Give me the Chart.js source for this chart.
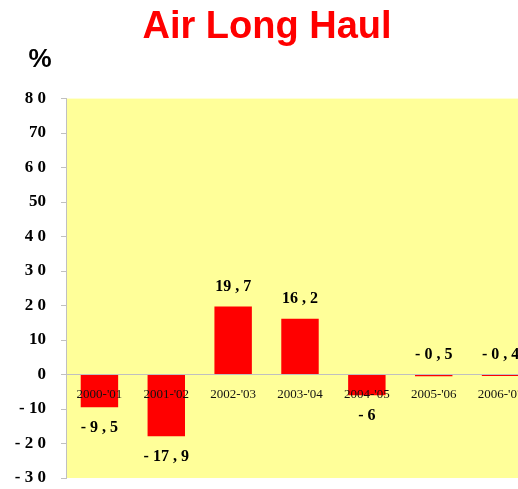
<!DOCTYPE html>
<html>
<head>
<meta charset="utf-8">
<script src="https://cdn.jsdelivr.net/npm/chart.js@4/dist/chart.umd.min.js"></script>
<style>
html,body{margin:0;padding:0;overflow:hidden;background:#fff;width:518px;height:489px;}
#wrap{width:540px;height:489px;}
</style>
</head>
<body>
<div id="wrap"><canvas id="c" width="540" height="489"></canvas></div>
<script>
const categories = ["2000-'01", "2001-'02", "2002-'03", "2003-'04", "2004-'05", "2005-'06", "2006-'07"];
const values = [-9.5, -17.9, 19.7, 16.2, -6, -0.5, -0.4];
const tickValues = [-30, -20, -10, 0, 10, 20, 30, 40, 50, 60, 70, 80];
const tickLabels = ["- 3 0", "- 2 0", "- 10", "0", "10", "2 0", "3 0", "4 0", "50", "6 0", "70", "8 0"];
const titleText = "Air Long Haul";
const unitText = "%";

function fmt(v) {
  const a = Math.abs(v);
  const ip = Math.trunc(a);
  const dec = Math.round((a - ip) * 10);
  return (v < 0 ? "- " : "") + ip + (dec ? " , " + dec : "");
}

const bgPlugin = {
  id: 'bg',
  beforeDraw(chart) {
    const {ctx, chartArea: a} = chart;
    ctx.save();
    ctx.fillStyle = '#FFFF99';
    ctx.fillRect(a.left, a.top, a.right - a.left, a.bottom - a.top);
    ctx.restore();
  },
  afterDraw(chart) {
    const ctx = chart.ctx;
    ctx.save();
    ctx.fillStyle = '#000';
    ctx.font = 'bold 26px "Liberation Sans", Arial, sans-serif';
    ctx.textAlign = 'center';
    ctx.textBaseline = 'middle';
    ctx.fillText(unitText, 40, 60);
    ctx.restore();
  }
};

const labelPlugin = {
  id: 'vlabels',
  afterDatasetsDraw(chart) {
    const ctx = chart.ctx;
    const meta = chart.getDatasetMeta(0);
    ctx.save();
    ctx.fillStyle = '#000';
    ctx.font = 'bold 16px "Liberation Serif", "Times New Roman", serif';
    ctx.textAlign = 'center';
    ctx.textBaseline = 'middle';
    meta.data.forEach((el, i) => {
      const v = values[i];
      const p = el.getProps(['x', 'y', 'base'], true);
      let y;
      if (v > -1) y = Math.min(p.y, p.base) - 20;
      else y = Math.max(p.y, p.base) + 21;
      ctx.fillText(fmt(v), p.x, y);
    });
    ctx.restore();
  }
};

new Chart(document.getElementById('c'), {
  type: 'bar',
  data: {
    labels: categories,
    datasets: [{
      data: values,
      backgroundColor: '#FF0000',
      borderWidth: 0,
      barPercentage: 0.56,
      categoryPercentage: 1
    }]
  },
  options: {
    responsive: false,
    animation: false,
    devicePixelRatio: 1,
    layout: {padding: {left: 0, right: 6, top: 0, bottom: 11}},
    plugins: {
      legend: {display: false},
      tooltip: {enabled: false},
      title: {
        display: true,
        text: titleText,
        color: '#FF0000',
        font: {family: '"Liberation Sans", Arial, sans-serif', size: 38, weight: 'bold'},
        padding: {top: 5, bottom: 48}
      }
    },
    scales: {
      x: {
        position: {y: 0},
        afterFit(scale) { scale.height = 0; },
        grid: {display: false, drawTicks: false},
        border: {display: true, color: '#C0C0C0', width: 1, z: 1},
        ticks: {
          z: 1,
          color: '#111',
          font: {family: '"Liberation Serif", "Times New Roman", serif', size: 13},
          padding: 12,
          maxRotation: 0,
          autoSkip: false
        }
      },
      y: {
        min: -30,
        max: 80,
        afterBuildTicks(scale) { scale.ticks = tickValues.map(v => ({value: v})); },
        afterFit(scale) { scale.width = 66; scale.paddingTop = 0; scale.paddingBottom = 0; },
        grid: {drawOnChartArea: false, drawTicks: true, tickLength: 5, color: '#C0C0C0'},
        border: {display: true, color: '#C0C0C0', width: 1},
        ticks: {
          color: '#000',
          font: {family: '"Liberation Serif", "Times New Roman", serif', size: 17, weight: 'bold'},
          padding: 15,
          callback(value) {
            const i = tickValues.indexOf(value);
            return i >= 0 ? tickLabels[i] : '';
          }
        }
      }
    }
  },
  plugins: [bgPlugin, labelPlugin]
});
</script>
</body>
</html>
